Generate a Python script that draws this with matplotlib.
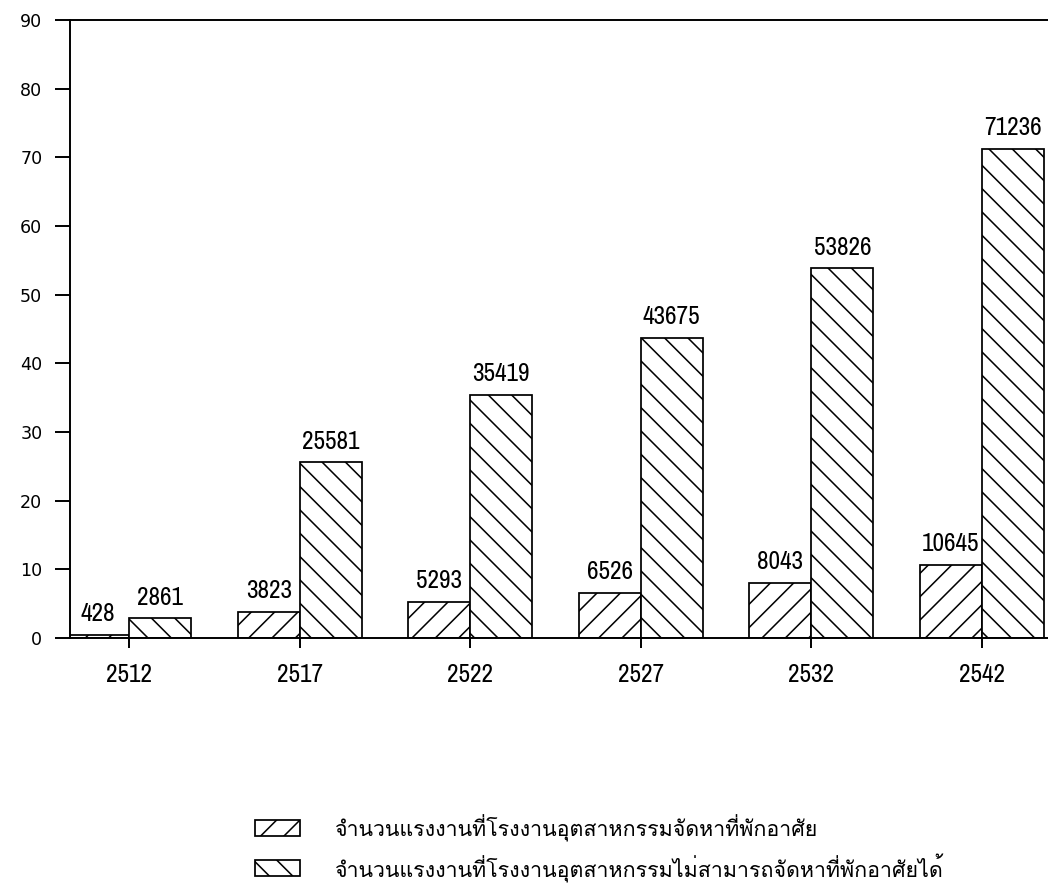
import numpy as np
import matplotlib
matplotlib.use("Agg")
import matplotlib.pyplot as plt
import matplotlib.font_manager as fm
from matplotlib.ft2font import FT2Font
from matplotlib.patches import Rectangle

# ---- data -------------------------------------------------------------
years = ["2512", "2517", "2522", "2527", "2532", "2542"]
housed = [428, 3823, 5293, 6526, 8043, 10645]
not_housed = [2861, 25581, 35419, 43675, 53826, 71236]
y_ticks = [0, 10, 20, 30, 40, 50, 60, 70, 80, 90]
legend_labels = [
    "จำนวนแรงงานที่โรงงานอุตสาหกรรมจัดหาที่พักอาศัย",
    "จำนวนแรงงานที่โรงงานอุตสาหกรรมไม่สามารถจัดหาที่พักอาศัยได้",
]


def thai_family():
    """Return the name of an installed family that has Thai glyphs."""
    for f in fm.fontManager.ttflist:
        try:
            if 0x0E08 in FT2Font(f.fname).get_charmap():
                return f.name
        except Exception:
            pass
    return "DejaVu Sans"


def narrow_font():
    """Pick a condensed face for the numbers, if one is installed."""
    for f in fm.fontManager.ttflist:
        n = f.name.lower()
        if ("narrow" in n or "condensed" in n) and f.style == "normal":
            return fm.FontProperties(fname=f.fname)
    for f in fm.fontManager.ttflist:
        if str(f.stretch) in ("condensed", "semi-condensed") and f.style == "normal" \
                and f.weight in (400, "normal"):
            return fm.FontProperties(fname=f.fname)
    return fm.FontProperties(family="DejaVu Sans")


THAI = thai_family()
NUM = narrow_font()

DPI = 140
W, H = 1048, 885
fig = plt.figure(figsize=(W / DPI, H / DPI), dpi=DPI)
fig.patch.set_facecolor("white")

plt.rcParams["hatch.linewidth"] = 0.8
plt.rcParams["hatch.color"] = "black"

ax = fig.add_axes([70 / W, 1 - 638 / H, (W - 70) / W, (638 - 20) / H])

x = np.arange(len(years))
w = 0.363
thousands = lambda v: np.asarray(v) / 1000.0

b1 = ax.bar(x - w / 2, thousands(housed), width=w, facecolor="white",
            edgecolor="black", linewidth=0.9, hatch="//")
b2 = ax.bar(x + w / 2, thousands(not_housed), width=w, facecolor="white",
            edgecolor="black", linewidth=0.9, hatch="\\\\")

num_prop = NUM.copy()
num_prop.set_size(13)
for bars, vals in ((b1, housed), (b2, not_housed)):
    for rect, v in zip(bars, vals):
        ax.annotate(str(v), (rect.get_x() + rect.get_width() / 2, rect.get_height()),
                    xytext=(0, 5), textcoords="offset points",
                    ha="center", va="bottom", fontproperties=num_prop)

ax.set_xlim(-0.346, 5.387)
ax.set_ylim(0, 90)
ax.set_yticks(y_ticks)
ax.set_yticklabels([str(t) for t in y_ticks], family="DejaVu Sans", size=9)
ax.set_xticks(x)
ax.set_xticklabels(years, fontproperties=num_prop)

ax.spines["right"].set_visible(False)
for s in ("left", "top", "bottom"):
    ax.spines[s].set_linewidth(1.0)
ax.tick_params(axis="y", direction="out", length=7.7, width=1.0, pad=6.5)
ax.tick_params(axis="x", direction="out", length=5, width=1.0, pad=8)

# ---- legend below the chart -------------------------------------------
rows_y = [828, 868]
hatches = ["//", "\\\\"]
for yy, hatch, label in zip(rows_y, hatches, legend_labels):
    fig.patches.append(Rectangle((255 / W, 1 - (yy + 8) / H), 45 / W, 16 / H,
                                 transform=fig.transFigure, facecolor="white",
                                 edgecolor="black", linewidth=0.9, hatch=hatch))
    fig.text(335 / W, 1 - yy / H, label, family=[THAI, "DejaVu Sans"],
             size=11, ha="left", va="center")

fig.savefig("out.png", dpi=DPI, facecolor="white")
